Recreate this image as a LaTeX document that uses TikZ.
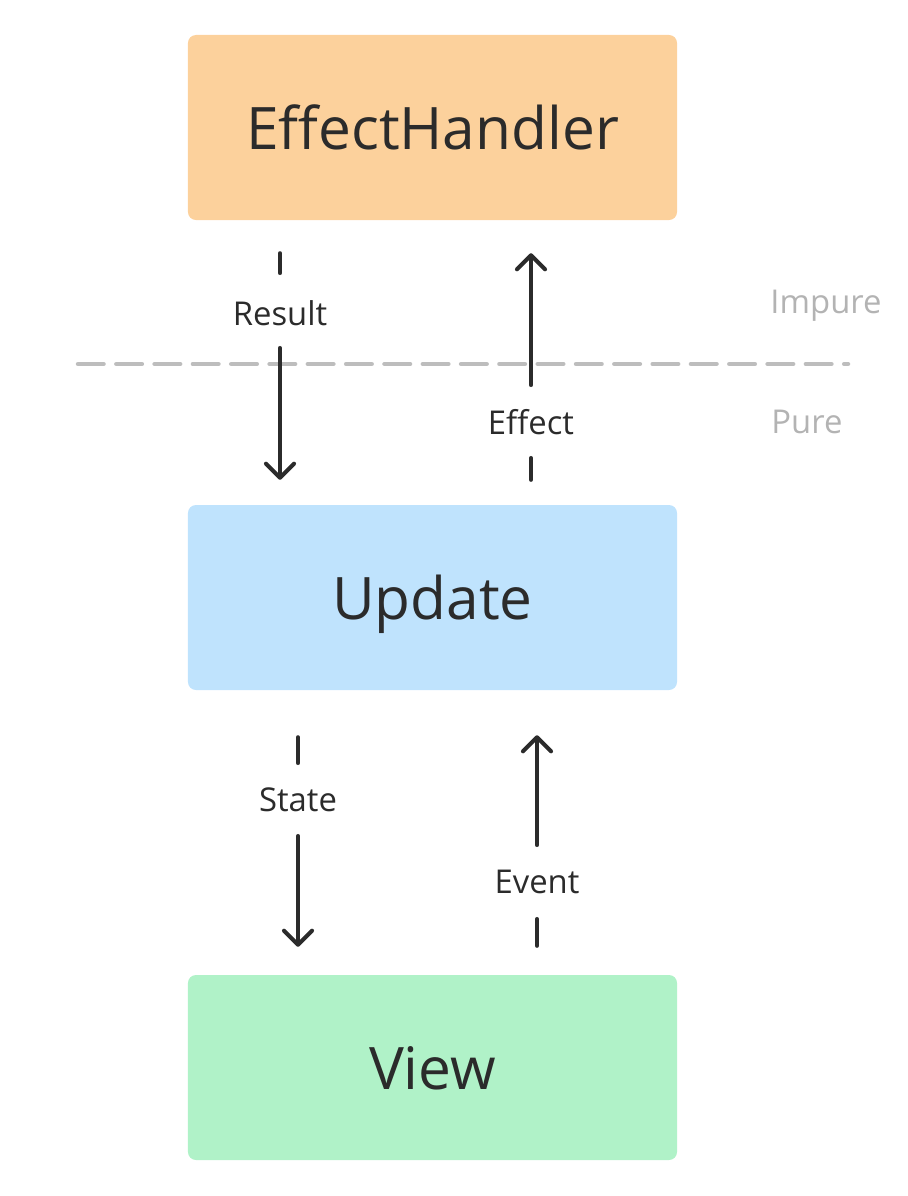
\documentclass[tikz,border=0pt]{standalone}
\usepackage{fontspec}
\setmainfont{Open Sans}
\usepackage{xcolor}
\usetikzlibrary{arrows.meta}
\definecolor{handlerfill}{HTML}{FCD19C}
\definecolor{updatefill}{HTML}{BFE3FD}
\definecolor{viewfill}{HTML}{B0F2C8}
\definecolor{ink}{HTML}{2B2B2B}
\definecolor{divider}{HTML}{BDBDBD}
\definecolor{zonetext}{HTML}{B3B3B3}
\tikzset{block/.style={rectangle,rounded corners=0.24cm,minimum width=14.67cm,
   minimum height=5.55cm,inner sep=0pt,text depth=0pt,text=ink,font=\fontsize{50}{58}\selectfont},
 flowlabel/.style={inner sep=0pt,text=ink,font=\fontsize{28}{32}\selectfont},
 zonelabel/.style={inner sep=0pt,text=zonetext,font=\fontsize{28}{32}\selectfont},
 stub/.style={draw=ink,line width=3.5pt,line cap=round},
 flow/.style={stub,-{Straight Barb[length=0.42cm,width=0.84cm,round]}},
 }

\begin{document}
\begin{tikzpicture}[x=0.03cm,y=-0.03cm]
        \useasboundingbox (0,0) rectangle (908,1196);
        % the three boxes
        \node[block,fill=handlerfill] (handler) at (432.5,127.5) {EffectHandler};
        \node[block,fill=updatefill] (update) at (432.5,597.5) {Update};
        \node[block,fill=viewfill] (view) at (432.5,1067.5) {View};
        % pure / impure divider
        \coordinate (divleft) at (78,364);
        \coordinate (divright) at (848,364);
        \draw[divider,line width=3.84pt,line cap=round,dash pattern=on 21.8pt off 10.9pt]
            (divleft) -- (divright);
        \node[zonelabel] (impure) at (826,306) {Impure};
        \node[zonelabel] (pure) at (807,422) {Pure};
        % labels on the flows
        \node[flowlabel] (result) at (280,313) {Result};
        \node[flowlabel] (effect) at (531,422) {Effect};
        \node[flowlabel] (state) at (298,800) {State};
        \node[flowlabel] (event) at (537,882) {Event};
        % flows
        \draw[stub,shorten <=0.99cm,shorten >=1.2cm] (handler.south -| result) -- (result.center);
        \draw[flow,shorten <=1.05cm,shorten >=0.75cm] (result.center) -- (update.north -| result);
        \draw[stub,shorten <=0.75cm,shorten >=1.08cm] (update.north -| effect) -- (effect.center);
        \draw[flow,shorten <=1.11cm,shorten >=0.99cm] (effect.center) -- (handler.south -| effect);
        \draw[stub,shorten <=1.41cm,shorten >=1.11cm] (update.south -| state) -- (state.center);
        \draw[flow,shorten <=1.08cm,shorten >=0.84cm] (state.center) -- (view.north -| state);
        \draw[stub,shorten <=0.87cm,shorten >=1.11cm] (view.north -| event) -- (event.center);
        \draw[flow,shorten <=1.11cm,shorten >=1.35cm] (event.center) -- (update.south -| event);
    \end{tikzpicture}
\end{document}
